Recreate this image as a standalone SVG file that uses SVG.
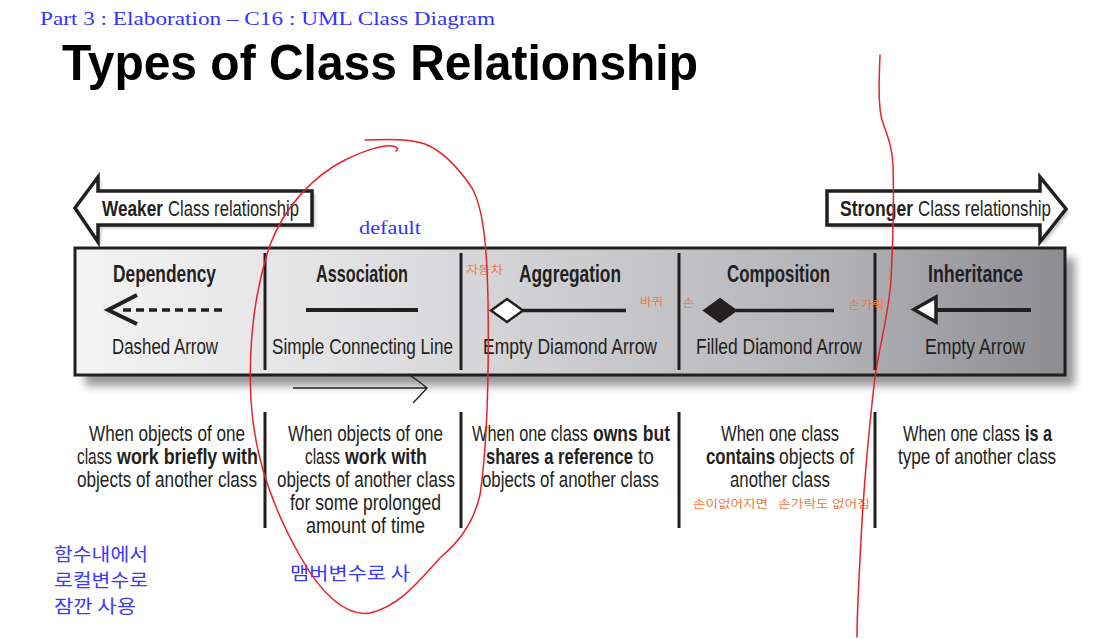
<svg xmlns="http://www.w3.org/2000/svg" width="1106" height="639" viewBox="0 0 1106 639">
<defs>
<linearGradient id="panelGrad" x1="0" y1="0" x2="1" y2="0">
<stop offset="0" stop-color="#f3f3f4"/>
<stop offset="0.3" stop-color="#e0e0e2"/>
<stop offset="0.5" stop-color="#cdcdd0"/>
<stop offset="0.75" stop-color="#b5b5b9"/>
<stop offset="1" stop-color="#8d8d91"/>
</linearGradient>
<filter id="blur" x="-10%" y="-30%" width="120%" height="160%"><feGaussianBlur stdDeviation="4"/></filter>
<filter id="blur2" x="-10%" y="-30%" width="120%" height="160%"><feGaussianBlur stdDeviation="1.5"/></filter>
</defs>
<style>
.cond{font-family:"Liberation Sans",Arial,sans-serif;fill:#231f20}
.hd{font-size:23px;font-weight:bold}
.sl{font-size:22.5px}
.ds{font-size:22px}
.ar{font-size:22px}
.b{font-weight:bold}
.div{stroke:#231f20;stroke-width:3}
.sym{stroke:#231f20;stroke-width:4;fill:none}
.note{font-family:"Noto Sans CJK KR",sans-serif;fill:#f07a3a;font-size:11px}
.blue{font-family:"Noto Sans CJK KR",sans-serif;fill:#3a3aff;font-size:18px}
.red{fill:none;stroke:#e8202a;stroke-width:1.5;stroke-linecap:round}
.box{fill:#fff;stroke:#231f20;stroke-width:3.5;stroke-linejoin:miter}
</style>
<rect width="1106" height="639" fill="#fff"/>

<text x="40" y="25" font-family="Liberation Serif,serif" font-size="18" fill="#3333ff" textLength="455" lengthAdjust="spacingAndGlyphs">Part 3 : Elaboration – C16 : UML Class Diagram</text>
<text x="62" y="80" font-family="Liberation Sans,Arial,sans-serif" font-size="50" font-weight="bold" fill="#000" textLength="636" lengthAdjust="spacingAndGlyphs">Types of Class Relationship</text>

<g id="weaker">
<polygon points="78,210 101,180 101,194 315,194 315,228 101,228 101,245" fill="#999" filter="url(#blur2)" opacity="0.6"/>
<polygon class="box" points="75,208 98,177 98,191 312,191 312,225 98,225 98,242"/>
<text class="cond ar b" transform="translate(102,216) scale(0.75,1)" textLength="81.3" lengthAdjust="spacingAndGlyphs">Weaker</text>
<text class="cond ar" transform="translate(168,216) scale(0.75,1)" textLength="174.7" lengthAdjust="spacingAndGlyphs">Class relationship</text>
</g>
<g id="stronger">
<polygon points="830,194 1043,194 1043,180 1069,212 1043,245 1043,228 830,228" fill="#999" filter="url(#blur2)" opacity="0.6"/>
<polygon class="box" points="827,191 1040,191 1040,177 1066,209 1040,242 1040,225 827,225"/>
<text class="cond ar b" transform="translate(840,216) scale(0.75,1)" textLength="97.3" lengthAdjust="spacingAndGlyphs">Stronger</text>
<text class="cond ar" transform="translate(918,216) scale(0.75,1)" textLength="177.3" lengthAdjust="spacingAndGlyphs">Class relationship</text>
</g>

<text x="359" y="234" font-family="Liberation Serif,serif" font-size="18" fill="#3333ff" textLength="62" lengthAdjust="spacingAndGlyphs">default</text>

<g id="panel">
<rect x="85" y="258" width="990" height="128" fill="#777" opacity="0.75" filter="url(#blur)"/>
<rect x="75" y="248" width="990" height="127" fill="url(#panelGrad)" stroke="#231f20" stroke-width="3"/>
<line class="div" x1="265" y1="253" x2="265" y2="370"/>
<line class="div" x1="461" y1="253" x2="461" y2="370"/>
<line class="div" x1="679" y1="253" x2="679" y2="370"/>
<line class="div" x1="875" y1="253" x2="875" y2="370"/>
</g>

<g id="dependency">
<text class="cond hd" transform="translate(113,282) scale(0.75,1)" textLength="137.3" lengthAdjust="spacingAndGlyphs">Dependency</text>
<line x1="123" y1="310" x2="222" y2="310" stroke="#231f20" stroke-width="3.5" stroke-dasharray="8 5"/>
<polyline class="sym" points="137,295 108,310 137,324"/>
<text class="cond sl" transform="translate(112,354) scale(0.75,1)" textLength="141.3" lengthAdjust="spacingAndGlyphs">Dashed Arrow</text>
<text class="cond ds" transform="translate(89,441) scale(0.75,1)" textLength="208" lengthAdjust="spacingAndGlyphs">When objects of one</text>
<text class="cond ds" transform="translate(77,464) scale(0.75,1)" textLength="46.7" lengthAdjust="spacingAndGlyphs">class</text>
<text class="cond ds b" transform="translate(117,464) scale(0.75,1)" textLength="188" lengthAdjust="spacingAndGlyphs">work briefly with</text>
<text class="cond ds" transform="translate(77,487) scale(0.75,1)" textLength="240" lengthAdjust="spacingAndGlyphs">objects of another class</text>
</g>

<g id="association">
<text class="cond hd" transform="translate(316,282) scale(0.75,1)" textLength="122.7" lengthAdjust="spacingAndGlyphs">Association</text>
<line x1="306" y1="310" x2="418" y2="310" stroke="#231f20" stroke-width="4"/>
<text class="cond sl" transform="translate(272,354) scale(0.75,1)" textLength="241.3" lengthAdjust="spacingAndGlyphs">Simple Connecting Line</text>
<text class="cond ds" transform="translate(288,441) scale(0.75,1)" textLength="206.7" lengthAdjust="spacingAndGlyphs">When objects of one</text>
<text class="cond ds" transform="translate(305,464) scale(0.75,1)" textLength="46.7" lengthAdjust="spacingAndGlyphs">class</text>
<text class="cond ds b" transform="translate(345,464) scale(0.75,1)" textLength="109.3" lengthAdjust="spacingAndGlyphs">work with</text>
<text class="cond ds" transform="translate(277,487) scale(0.75,1)" textLength="237.3" lengthAdjust="spacingAndGlyphs">objects of another class</text>
<text class="cond ds" transform="translate(290,510) scale(0.75,1)" textLength="201.3" lengthAdjust="spacingAndGlyphs">for some prolonged</text>
<text class="cond ds" transform="translate(306,533) scale(0.75,1)" textLength="158.7" lengthAdjust="spacingAndGlyphs">amount of time</text>
</g>

<g id="aggregation">
<text class="cond hd" transform="translate(519,282) scale(0.75,1)" textLength="136" lengthAdjust="spacingAndGlyphs">Aggregation</text>
<line x1="523" y1="310.5" x2="626" y2="310.5" stroke="#231f20" stroke-width="3.5"/>
<polygon points="491,310.5 507,299 523,310.5 507,322" fill="#fff" stroke="#231f20" stroke-width="2.5"/>
<text class="cond sl" transform="translate(483,354) scale(0.75,1)" textLength="232" lengthAdjust="spacingAndGlyphs">Empty Diamond Arrow</text>
<text class="cond ds" transform="translate(472,441) scale(0.75,1)" textLength="154.7" lengthAdjust="spacingAndGlyphs">When one class</text>
<text class="cond ds b" transform="translate(593,441) scale(0.75,1)" textLength="102.7" lengthAdjust="spacingAndGlyphs">owns but</text>
<text class="cond ds b" transform="translate(486,464) scale(0.75,1)" textLength="196" lengthAdjust="spacingAndGlyphs">shares a reference</text>
<text class="cond ds" transform="translate(638,464) scale(0.75,1)" textLength="21.3" lengthAdjust="spacingAndGlyphs">to</text>
<text class="cond ds" transform="translate(482,487) scale(0.75,1)" textLength="236" lengthAdjust="spacingAndGlyphs">objects of another class</text>
</g>

<g id="composition">
<text class="cond hd" transform="translate(727,282) scale(0.75,1)" textLength="137.3" lengthAdjust="spacingAndGlyphs">Composition</text>
<line x1="736" y1="310.5" x2="834" y2="310.5" stroke="#231f20" stroke-width="3.5"/>
<polygon points="704,310.5 720,299 736,310.5 720,322" fill="#231f20" stroke="#231f20" stroke-width="2"/>
<text class="cond sl" transform="translate(696,354) scale(0.75,1)" textLength="221.3" lengthAdjust="spacingAndGlyphs">Filled Diamond Arrow</text>
<text class="cond ds" transform="translate(721,441) scale(0.75,1)" textLength="157.3" lengthAdjust="spacingAndGlyphs">When one class</text>
<text class="cond ds b" transform="translate(706,464) scale(0.75,1)" textLength="92" lengthAdjust="spacingAndGlyphs">contains</text>
<text class="cond ds" transform="translate(779,464) scale(0.75,1)" textLength="100" lengthAdjust="spacingAndGlyphs">objects of</text>
<text class="cond ds" transform="translate(730,487) scale(0.75,1)" textLength="133.3" lengthAdjust="spacingAndGlyphs">another class</text>
</g>

<g id="inheritance">
<text class="cond hd" transform="translate(928,282) scale(0.75,1)" textLength="126.7" lengthAdjust="spacingAndGlyphs">Inheritance</text>
<line x1="934" y1="310" x2="1031" y2="310" stroke="#231f20" stroke-width="4"/>
<polygon points="914,309.5 936,297 936,322" fill="#fff" stroke="#231f20" stroke-width="3.5" stroke-linejoin="miter"/>
<text class="cond sl" transform="translate(925,354) scale(0.75,1)" textLength="133.3" lengthAdjust="spacingAndGlyphs">Empty Arrow</text>
<text class="cond ds" transform="translate(903,441) scale(0.75,1)" textLength="156" lengthAdjust="spacingAndGlyphs">When one class</text>
<text class="cond ds b" transform="translate(1025,441) scale(0.75,1)" textLength="36" lengthAdjust="spacingAndGlyphs">is a</text>
<text class="cond ds" transform="translate(898,464) scale(0.75,1)" textLength="210.7" lengthAdjust="spacingAndGlyphs">type of another class</text>
</g>

<g id="lower-dividers">
<line class="div" x1="265" y1="412" x2="265" y2="528"/>
<line class="div" x1="461" y1="412" x2="461" y2="528"/>
<line class="div" x1="679" y1="412" x2="679" y2="528"/>
<line class="div" x1="875" y1="412" x2="875" y2="528"/>
</g>

<g id="notes">
<text class="note" x="466" y="274" textLength="37" lengthAdjust="spacingAndGlyphs">자동차</text>
<text class="note" x="640" y="306" textLength="23" lengthAdjust="spacingAndGlyphs">바퀴</text>
<text class="note" x="683" y="307" textLength="11" lengthAdjust="spacingAndGlyphs">손</text>
<text class="note" x="848" y="309" textLength="37" lengthAdjust="spacingAndGlyphs">손가락</text>
<text class="note" x="693" y="508" textLength="75" lengthAdjust="spacingAndGlyphs">손이없어지면</text>
<text class="note" x="778" y="508" textLength="92" lengthAdjust="spacingAndGlyphs">손가락도 없어짐</text>
<text class="blue" x="54" y="561" textLength="94" lengthAdjust="spacingAndGlyphs">함수내에서</text>
<text class="blue" x="54" y="587" textLength="94" lengthAdjust="spacingAndGlyphs">로컬변수로</text>
<text class="blue" x="54" y="613" textLength="82" lengthAdjust="spacingAndGlyphs">잠깐 사용</text>
<text class="blue" x="290" y="580" textLength="120" lengthAdjust="spacingAndGlyphs">맴버변수로 사</text>
</g>

<g id="connectors">
<path d="M293,388 L427,388 M408,374 Q420,382 427,388 Q420,396 413,403" fill="none" stroke="#222" stroke-width="1.4"/>
<path class="red" d="M365,140 C390,139 410,139 425,144 C445,152 460,170 472,188 C484,210 487,250 488,300 C489,370 488,440 480,495 C472,528 455,545 440,558 C420,580 400,606 370,613 C345,617 320,592 300,556 C275,512 254,460 251,400 C248,340 255,290 270,245 C285,205 315,175 345,160 C365,150 383,145 392,146 C398,147 399,150 396,151"/>
<path class="red" d="M880,55 C879,80 878,105 882,120 C887,135 892,145 893,165 C894,200 893,240 891,280 C888,320 878,350 874,385 C869,430 864,480 861,540 C859,580 857,610 857,637"/>
</g>
</svg>
